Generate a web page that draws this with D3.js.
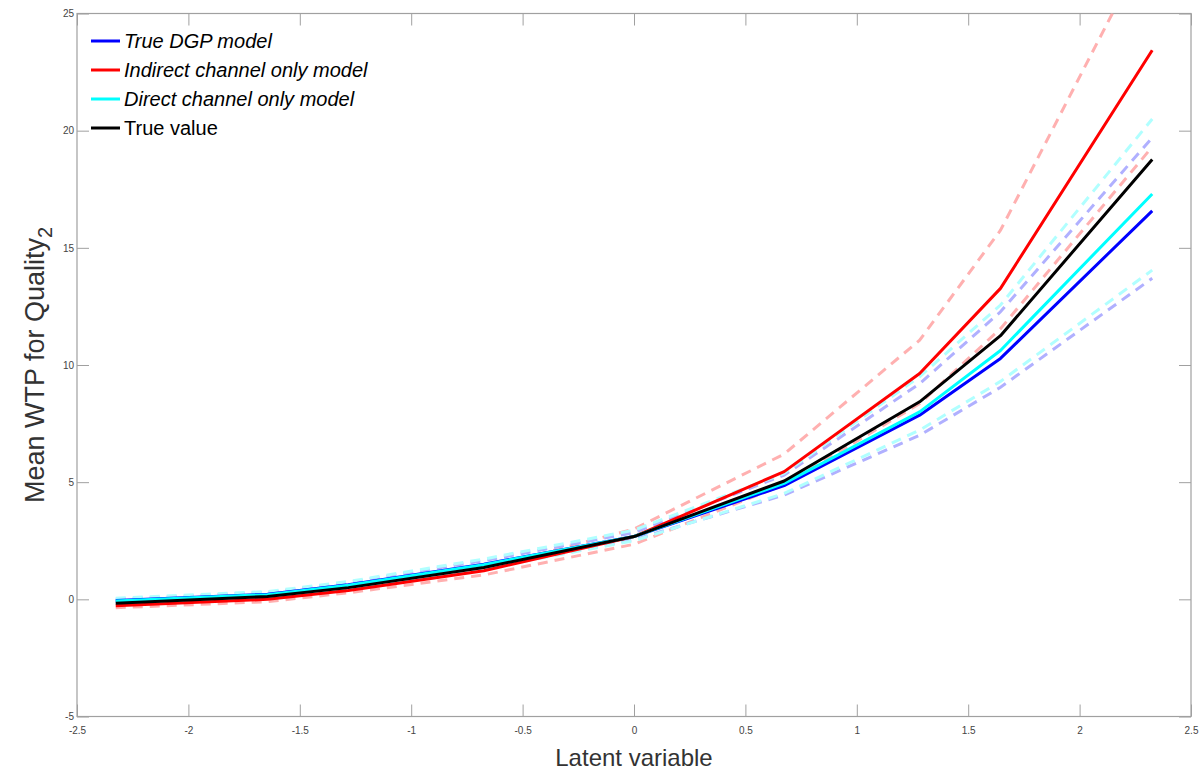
<!DOCTYPE html>
<html><head><meta charset="utf-8">
<script src="https://cdn.jsdelivr.net/npm/d3@7"></script>
<style>body{margin:0;background:#fff}svg{display:block}</style>
</head><body>
<script>
const xVals = [-2.326, -1.645, -1.282, -0.674, 0, 0.674, 1.282, 1.645, 2.326];
const trueValue   = [-0.17, 0.12, 0.5, 1.36, 2.68, 5.05, 8.43, 11.25, 18.77];
const trueDGP     = [-0.05, 0.22, 0.62, 1.5, 2.68, 4.85, 7.86, 10.28, 16.58];
const directOnly  = [-0.07, 0.2, 0.6, 1.48, 2.68, 4.95, 8.0, 10.62, 17.3];
const indirectOnly= [-0.27, 0.0, 0.38, 1.22, 2.68, 5.45, 9.64, 13.27, 23.43];
const indirectUpper = [-0.2, 0.08, 0.45, 1.3, 3.0, 6.2, 11.06, 15.75, 28.3];
const indirectLower = [-0.36, -0.1, 0.28, 1.04, 2.35, 4.9, 8.35, 11.55, 19.31];
const dgpUpper    = [0.0, 0.3, 0.72, 1.65, 2.85, 5.3, 9.2, 12.27, 19.7];
const dgpLower    = [-0.1, 0.15, 0.5, 1.32, 2.55, 4.45, 7.0, 9.05, 13.7];
const directUpper = [0.05, 0.33, 0.76, 1.72, 2.95, 5.38, 9.5, 12.56, 20.5];
const directLower = [-0.12, 0.12, 0.48, 1.3, 2.5, 4.52, 7.22, 9.3, 14.05];
const xTicks = [-2.5, -2, -1.5, -1, -0.5, 0, 0.5, 1, 1.5, 2, 2.5];
const yTicks = [-5, 0, 5, 10, 15, 20, 25];
const legendLabels = ["True DGP model", "Indirect channel only model", "Direct channel only model", "True value"];

const W = 1199, H = 772;
const m = {l: 77, r: 1191, t: 13.5, b: 716.5};
const svg = d3.select("body").append("svg").attr("width", W).attr("height", H);
const x = d3.scaleLinear().domain([-2.5, 2.5]).range([m.l, m.r]);
const y = d3.scaleLinear().domain([-5, 25]).range([m.b, m.t]);

svg.append("clipPath").attr("id", "clip").append("rect")
  .attr("x", m.l).attr("y", m.t).attr("width", m.r - m.l).attr("height", m.b - m.t);

const fmt = d => String(d);
const axisColor = "#a0a0a0";
function styleAxis(g, showText) {
  g.select(".domain").remove();
  g.selectAll(".tick line").attr("stroke", axisColor).attr("stroke-width", 1);
  g.selectAll(".tick text").attr("fill", "#444").style("font-family", "Arial, 'Liberation Sans', sans-serif").style("font-size", "10px");
  if (!showText) g.selectAll(".tick text").remove();
}
svg.append("g").attr("transform", `translate(0,${m.b})`)
  .call(d3.axisBottom(x).tickValues(xTicks).tickFormat(fmt).tickSizeInner(-12).tickSizeOuter(0).tickPadding(10))
  .call(g => styleAxis(g, true));
svg.append("g").attr("transform", `translate(0,${m.t})`)
  .call(d3.axisTop(x).tickValues(xTicks).tickSizeInner(-12).tickSizeOuter(0))
  .call(g => styleAxis(g, false));
svg.append("g").attr("transform", `translate(${m.l},0)`)
  .call(d3.axisLeft(y).tickValues(yTicks).tickFormat(fmt).tickSizeInner(-12).tickSizeOuter(0).tickPadding(3))
  .call(g => styleAxis(g, true));
svg.append("g").attr("transform", `translate(${m.r},0)`)
  .call(d3.axisRight(y).tickValues(yTicks).tickSizeInner(-12).tickSizeOuter(0))
  .call(g => styleAxis(g, false));
svg.append("rect").attr("x", m.l).attr("y", m.t).attr("width", m.r - m.l).attr("height", m.b - m.t)
  .attr("fill", "none").attr("stroke", axisColor).attr("stroke-width", 1.2);

const line = d3.line().x((d, i) => x(xVals[i])).y(d => y(d));
const plot = svg.append("g").attr("clip-path", "url(#clip)");
const dashed = [
  [indirectUpper, "#ffb0b0"], [indirectLower, "#ffb0b0"],
  [dgpUpper, "#b0b0ff"], [dgpLower, "#b0b0ff"],
  [directUpper, "#b0ffff"], [directLower, "#b0ffff"]
];
dashed.forEach(([s, c]) => plot.append("path").attr("d", line(s)).attr("fill", "none")
  .attr("stroke", c).attr("stroke-width", 3).attr("stroke-dasharray", "10,7"));
const solid = [[trueDGP, "#0000ff"], [indirectOnly, "#ff0000"], [directOnly, "#00ffff"], [trueValue, "#000000"]];
solid.forEach(([s, c]) => plot.append("path").attr("d", line(s)).attr("fill", "none")
  .attr("stroke", c).attr("stroke-width", 3).attr("stroke-linejoin", "round"));

const legColors = ["#0000ff", "#ff0000", "#00ffff", "#000000"];
const leg = svg.append("g");
legendLabels.forEach((t, i) => {
  const yy = 41 + i * 29;
  leg.append("line").attr("x1", 91).attr("x2", 120).attr("y1", yy).attr("y2", yy)
    .attr("stroke", legColors[i]).attr("stroke-width", 3);
  leg.append("text").attr("x", 124).attr("y", yy).attr("dy", "0.35em").text(t)
    .style("font-family", "Arial, 'Liberation Sans', sans-serif").style("font-size", "20px")
    .style("font-style", i < 3 ? "italic" : "normal").attr("fill", "#000");
});

svg.append("text").attr("x", (m.l + m.r) / 2).attr("y", 766).attr("text-anchor", "middle")
  .style("font-family", "Arial, 'Liberation Sans', sans-serif").style("font-size", "24px").attr("fill", "#333")
  .text("Latent variable");
const yl = svg.append("text").attr("transform", `translate(44,${(m.t + m.b) / 2}) rotate(-90)`)
  .attr("text-anchor", "middle")
  .style("font-family", "Arial, 'Liberation Sans', sans-serif").style("font-size", "27px").attr("fill", "#333");
yl.append("tspan").text("Mean WTP for Quality");
yl.append("tspan").attr("dy", 8).style("font-size", "20px").text("2");
</script>
</body></html>
